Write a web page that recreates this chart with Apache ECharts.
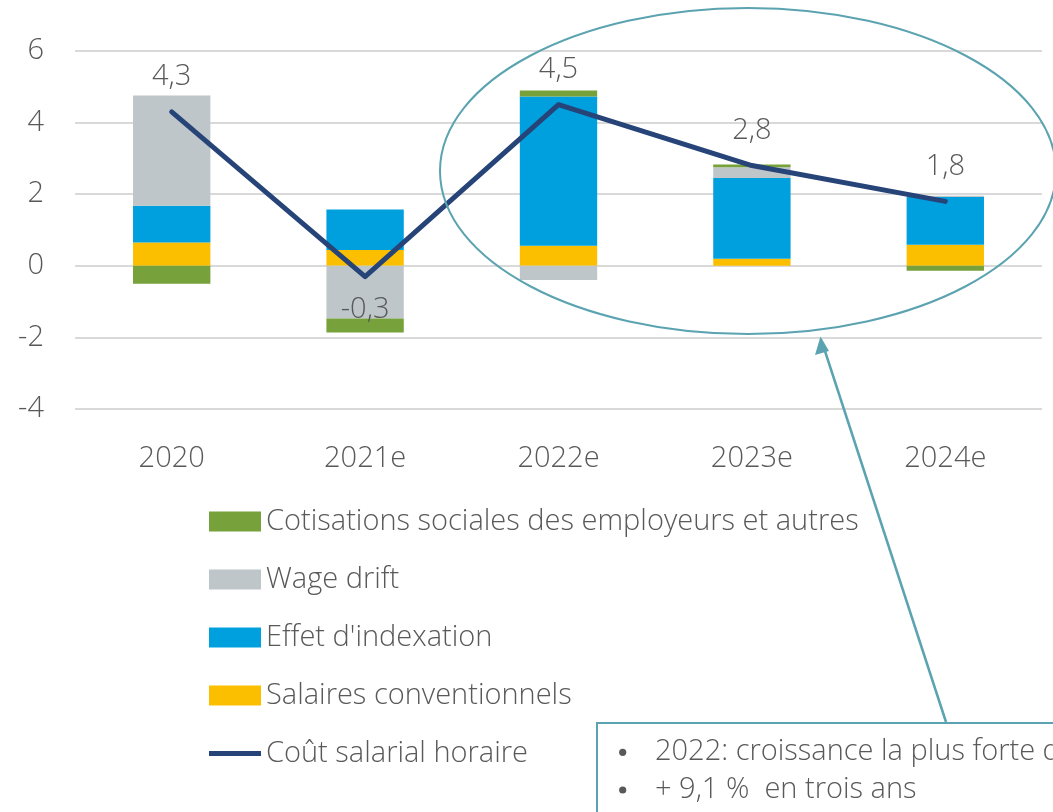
<!DOCTYPE html>
<html>
<head>
<meta charset="utf-8">
<script src="https://cdn.jsdelivr.net/npm/echarts@6/dist/echarts.min.js"></script>
<style>
html,body{margin:0;padding:0;background:#fff;}
#main{width:1053px;height:812px;}
</style>
</head>
<body>
<div id="main"></div>
<script>
const categories = ['2020', '2021e', '2022e', '2023e', '2024e'];
const cotisations = [-0.5, -0.39, 0.17, 0.08, -0.14];
const wageDrift = [3.08, -1.47, -0.40, 0.30, 0.04];
const indexation = [1.03, 1.13, 4.17, 2.25, 1.33];
const salaires = [0.65, 0.44, 0.56, 0.20, 0.59];
const coutSalarial = [4.3, -0.3, 4.5, 2.8, 1.8];
const yTicks = [-4, -2, 0, 2, 4, 6];

const FONT = '"Open Sans"';
const FW = 300;
const FS = 29;
const TXT = '#595959';
const NAVY = '#264478';
const TEAL = '#5BA3B0';

const chart = echarts.init(document.getElementById('main'), null, {renderer: 'canvas'});

function barSeries(name, data, color) {
  return {
    name: name, type: 'bar', stack: 'total', data: data,
    barWidth: '40%',
    itemStyle: {color: color},
    emphasis: {disabled: true}
  };
}

const option = {
  animation: false,
  backgroundColor: '#fff',
  grid: {left: 75, right: 11, top: 51, height: 358, containLabel: false},
  xAxis: {
    type: 'category', data: categories,
    axisLine: {show: false}, axisTick: {show: false},
    axisLabel: {color: TXT, fontSize: FS, fontFamily: FONT, fontWeight: FW, margin: 35}
  },
  yAxis: {
    type: 'value', min: yTicks[0], max: yTicks[yTicks.length - 1], interval: 2,
    axisLine: {show: false}, axisTick: {show: false},
    axisLabel: {color: TXT, fontSize: FS, fontFamily: FONT, fontWeight: FW, margin: 31},
    splitLine: {lineStyle: {color: '#D9D9D9', width: 2}}
  },
  legend: {
    orient: 'vertical', left: 204, top: 502,
    itemWidth: 52, itemHeight: 20, itemGap: 29,
    textStyle: {color: TXT, fontSize: FS, fontFamily: FONT, fontWeight: FW, padding: [0, 0, 0, 0]},
    data: [
      {name: 'Cotisations sociales des employeurs et autres', icon: 'rect'},
      {name: 'Wage drift', icon: 'rect'},
      {name: "Effet d'indexation", icon: 'rect'},
      {name: 'Salaires conventionnels', icon: 'rect'},
      {name: 'Coût salarial horaire', icon: 'path://M0,0 L52,0 L52,5 L0,5 Z', itemStyle: {color: NAVY}}
    ]
  },
  series: [
    barSeries('Salaires conventionnels', salaires, '#FCBF00'),
    barSeries("Effet d'indexation", indexation, '#009FDE'),
    barSeries('Wage drift', wageDrift, '#BFC6C9'),
    barSeries('Cotisations sociales des employeurs et autres', cotisations, '#77A13A'),
    {
      name: 'Coût salarial horaire', type: 'line', data: coutSalarial.map((v, i) => ({
        value: v,
        label: {position: v < 0 ? 'bottom' : 'top', distance: v < 0 ? 18 : 20}
      })),
      symbol: 'circle', symbolSize: 1, showSymbol: true,
      lineStyle: {color: NAVY, width: 5, cap: 'round', join: 'round'},
      itemStyle: {color: 'rgba(0,0,0,0)'},
      z: 5,
      label: {
        show: true, color: TXT, fontSize: FS, fontFamily: FONT, fontWeight: FW,
        formatter: p => String(p.value).replace('.', ',')
      },
      emphasis: {disabled: true}
    }
  ],
  graphic: [
    {
      type: 'ellipse', z: 10, silent: true,
      shape: {cx: 748, cy: 171, rx: 308, ry: 163},
      style: {fill: 'none', stroke: TEAL, lineWidth: 2}
    },
    {
      type: 'line', z: 10, silent: true,
      shape: {x1: 946, y1: 722, x2: 823, y2: 345},
      style: {stroke: TEAL, lineWidth: 2.5}
    },
    {
      type: 'polygon', z: 10, silent: true,
      shape: {points: [[820.5, 336.5], [815, 355], [829, 351]]},
      style: {fill: TEAL}
    },
    {
      type: 'rect', z: 10, silent: true,
      shape: {x: 597, y: 723, width: 480, height: 120},
      style: {fill: '#fff', stroke: TEAL, lineWidth: 2}
    },
    {
      type: 'circle', z: 11, silent: true,
      shape: {cx: 622.7, cy: 752.3, r: 3.6},
      style: {fill: TXT}
    },
    {
      type: 'text', z: 11, silent: true, left: 655, top: 737,
      style: {text: '2022: croissance la plus forte depuis 1982', fill: TXT, fontSize: FS, fontFamily: FONT, fontWeight: FW}
    },
    {
      type: 'circle', z: 11, silent: true,
      shape: {cx: 622.7, cy: 790, r: 3.6},
      style: {fill: TXT}
    },
    {
      type: 'text', z: 11, silent: true, left: 655, top: 775,
      style: {text: '+ 9,1 %  en trois ans', fill: TXT, fontSize: FS, fontFamily: FONT, fontWeight: FW}
    }
  ]
};
chart.setOption(option);
</script>
</body>
</html>
